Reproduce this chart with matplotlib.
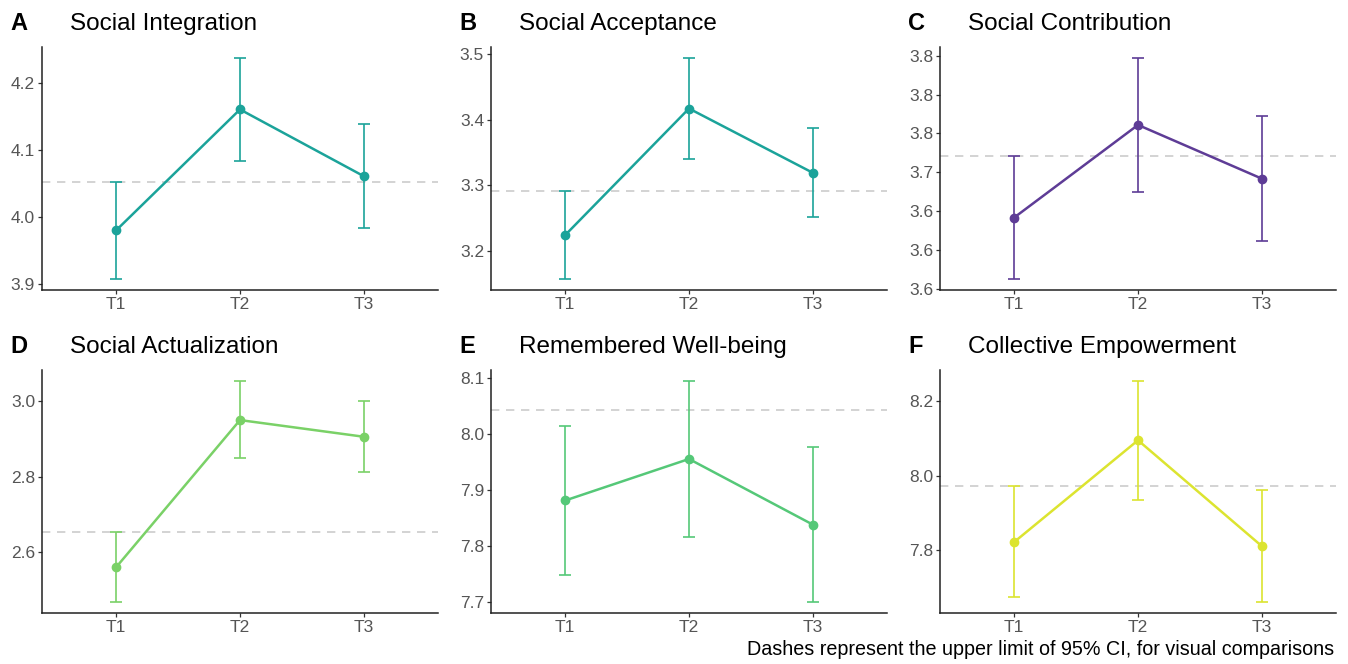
import numpy as np, matplotlib
matplotlib.use("Agg")
import matplotlib.pyplot as plt

plt.rcParams["font.family"] = ["Liberation Sans", "DejaVu Sans"]

times = ["T1", "T2", "T3"]
letters = ["A", "B", "C", "D", "E", "F"]
titles = ["Social Integration", "Social Acceptance", "Social Contribution",
          "Social Actualization", "Remembered Well-being", "Collective Empowerment"]
colors = ["#1BA39A", "#1BA39A", "#5E3C96", "#7AD167", "#55C878", "#DCE430"]

means = [[3.980, 4.161, 4.061],
         [3.224, 3.417, 3.319],
         [3.642, 3.761, 3.692],
         [2.561, 2.949, 2.905],
         [7.881, 7.955, 7.838],
         [7.822, 8.095, 7.811]]
lower = [[3.907, 4.084, 3.983],
         [3.157, 3.340, 3.251],
         [3.563, 3.675, 3.612],
         [2.469, 2.849, 2.812],
         [7.748, 7.816, 7.700],
         [7.673, 7.936, 7.661]]
upper = [[4.053, 4.238, 4.139],
         [3.291, 3.494, 3.388],
         [3.721, 3.847, 3.773],
         [2.653, 3.052, 3.000],
         [8.014, 8.094, 7.976],
         [7.972, 8.254, 7.962]]
dash_y = [4.053, 3.291, 3.721, 2.653, 8.043, 7.972]

yticks = [[3.9, 4.0, 4.1, 4.2],
          [3.2, 3.3, 3.4, 3.5],
          [3.55, 3.60, 3.65, 3.70, 3.75, 3.80, 3.85],
          [2.6, 2.8, 3.0],
          [7.7, 7.8, 7.9, 8.0, 8.1],
          [7.8, 8.0, 8.2]]
yticklabels = [["3.9", "4.0", "4.1", "4.2"],
               ["3.2", "3.3", "3.4", "3.5"],
               ["3.6", "3.6", "3.6", "3.7", "3.8", "3.8", "3.8"],
               ["2.6", "2.8", "3.0"],
               ["7.7", "7.8", "7.9", "8.0", "8.1"],
               ["7.8", "8.0", "8.2"]]

W, H = 1348, 664
fig = plt.figure(figsize=(W / 100, H / 100), dpi=100)

col_left = [42, 491, 940]
row_top = [47, 370]
ax_w, ax_h = 396, 243
letter_x = [10, 459, 908]
title_x = [70, 519, 968]
base_y = [30, 353]

x = np.arange(1, 4)
for i in range(6):
    r, c = divmod(i, 3)
    ax = fig.add_axes([col_left[c] / W, 1 - (row_top[r] + ax_h) / H, ax_w / W, ax_h / H])
    m = np.array(means[i]); lo = np.array(lower[i]); up = np.array(upper[i])
    ax.axhline(dash_y[i], color="#CCCCCC", lw=1.2, dashes=(5, 4), zorder=1)
    ax.errorbar(x, m, yerr=[m - lo, up - m], fmt="none", ecolor=colors[i],
                elinewidth=1.2, capsize=4.2, capthick=1.2, zorder=2)
    ax.plot(x, m, color=colors[i], lw=1.8, marker="o", ms=6, zorder=3)
    ax.set_xlim(0.4, 3.6)
    ax.margins(y=0.05)
    ax.set_xticks(x, times)
    ax.set_yticks(yticks[i], yticklabels[i])
    for s in ["top", "right"]:
        ax.spines[s].set_visible(False)
    for s in ["left", "bottom"]:
        ax.spines[s].set_linewidth(1.1)
        ax.spines[s].set_color("#222222")
    ax.tick_params(colors="#333333", labelcolor="#555555", labelsize=12.5,
                   length=3, width=0.9, pad=2)
    fig.text(letter_x[c] / W, 1 - base_y[r] / H, letters[i], fontsize=17,
             fontweight="bold", ha="left", va="baseline")
    fig.text(title_x[c] / W, 1 - base_y[r] / H, titles[i], fontsize=17.5,
             ha="left", va="baseline")

fig.text(1334 / W, 1 - 655 / H,
         "Dashes represent the upper limit of 95% CI, for visual comparisons",
         fontsize=14.2, ha="right", va="baseline")

fig.savefig("out.png", dpi=100)
